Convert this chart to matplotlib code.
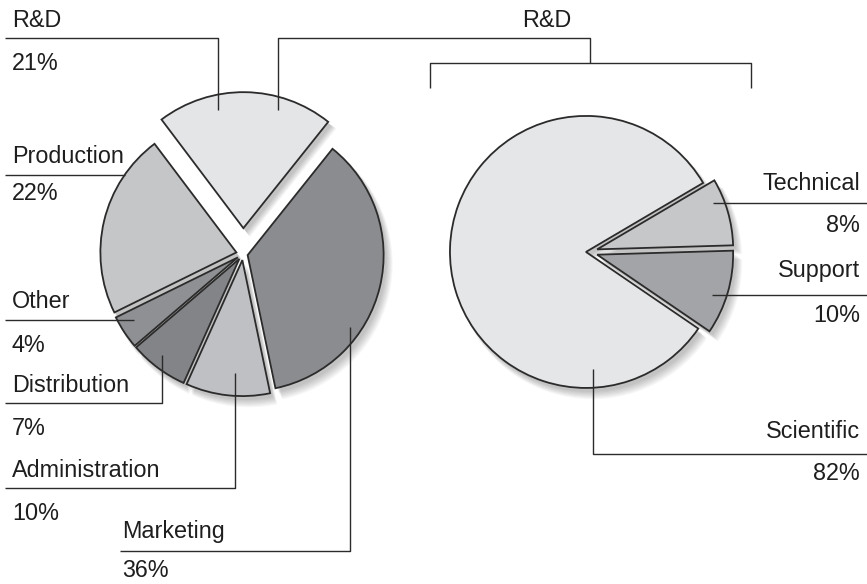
import matplotlib
matplotlib.use("Agg")
import matplotlib.pyplot as plt

W, H = 867, 584

# ── data ──────────────────────────────────────────────────────────────
dept_labels = ["R&D", "Marketing", "Administration", "Distribution", "Other", "Production"]
dept_share = [21, 36, 10, 7, 4, 22]
dept_colors = ["#e4e5e7", "#8b8c8f", "#bfc0c3", "#838487", "#8f9093", "#c5c6c8"]
dept_explode = [0.19, 0.035, 0.045, 0.045, 0.045, 0.05]

rd_labels = ["Technical", "Support", "Scientific"]
rd_share = [8, 10, 82]
rd_colors = ["#c6c7c9", "#a3a4a7", "#e5e6e8"]
rd_explode = [0.07, 0.07, 0.015]

LINE = "#2b2b2b"
TXT = "#1e1e1e"
FS = 16.8


def py(y):
    # pixel row (top-down) -> data y (bottom-up)
    return H - y


def draw_pie(ax, values, colors, explode, center, radius, start):
    cx, cy = center
    # pie() takes explode as an absolute offset, so scale by the radius
    expl = [e * radius for e in explode]
    # soft drop shadow, drawn as a few faded copies shifted down-right
    for k in range(7):
        ax.pie(values, explode=expl, startangle=start, counterclock=False,
               center=(cx + 3 + k * 0.6, py(cy) - 4 - k * 0.8), radius=radius + k * 0.4,
               colors=["#000000"] * len(values),
               wedgeprops=dict(linewidth=0, alpha=0.035))
    ax.pie(values, explode=expl, startangle=start, counterclock=False,
           center=(cx, py(cy)), radius=radius, colors=colors,
           wedgeprops=dict(edgecolor=LINE, linewidth=1.3))


def leader(ax, xs, ys, lw=1.0):
    ax.plot(xs, [py(v) for v in ys], color=LINE, lw=lw, solid_capstyle="butt")


def label(ax, x, y, s, ha="left"):
    ax.text(x, py(y), s, fontsize=FS, color=TXT, ha=ha, va="baseline",
            family=["Liberation Sans", "DejaVu Sans"])


fig = plt.figure(figsize=(W / 100, H / 100), dpi=100)
ax = fig.add_axes([0, 0, 1, 1])

draw_pie(ax, dept_share, dept_colors, dept_explode, (243, 254), 136, 127)
draw_pie(ax, rd_share, rd_colors, rd_explode, (588, 252), 136, 30.5)

# ── left pie labels ───────────────────────────────────────────────────
pct = [f"{v}%" for v in dept_share]
label(ax, 12, 27, dept_labels[0]); label(ax, 12, 70, pct[0])
leader(ax, [5, 218, 218], [38, 38, 110])
label(ax, 12, 163, dept_labels[5]); label(ax, 12, 200, pct[5])
leader(ax, [5, 125], [175, 175])
label(ax, 12, 308, dept_labels[4]); label(ax, 12, 352, pct[4])
leader(ax, [5, 134], [320, 320])
label(ax, 12, 392, dept_labels[3]); label(ax, 12, 435, pct[3])
leader(ax, [5, 162, 162], [403, 403, 355])
label(ax, 12, 477, dept_labels[2]); label(ax, 12, 520, pct[2])
leader(ax, [5, 235, 235], [488, 488, 373])
label(ax, 122, 538, dept_labels[1]); label(ax, 122, 577, pct[1])
leader(ax, [120, 350, 350], [551, 551, 327])

# R&D link to the breakdown pie
leader(ax, [278, 278, 590, 590], [110, 38, 38, 63])
leader(ax, [430, 430, 751, 751], [88, 63, 63, 88])
label(ax, 547, 27, "R&D", ha="center")

# ── right pie labels ──────────────────────────────────────────────────
rpct = [f"{v}%" for v in rd_share]
label(ax, 860, 190, rd_labels[0], ha="right"); label(ax, 860, 232, rpct[0], ha="right")
leader(ax, [713, 867], [203, 203])
label(ax, 860, 277, rd_labels[1], ha="right"); label(ax, 860, 322, rpct[1], ha="right")
leader(ax, [712, 867], [295, 295])
label(ax, 860, 438, rd_labels[2], ha="right"); label(ax, 860, 480, rpct[2], ha="right")
leader(ax, [593, 593, 867], [369, 454, 454])

ax.set_xlim(0, W)
ax.set_ylim(0, H)
ax.set_aspect("equal")
ax.axis("off")

fig.savefig("out.png", dpi=100)
